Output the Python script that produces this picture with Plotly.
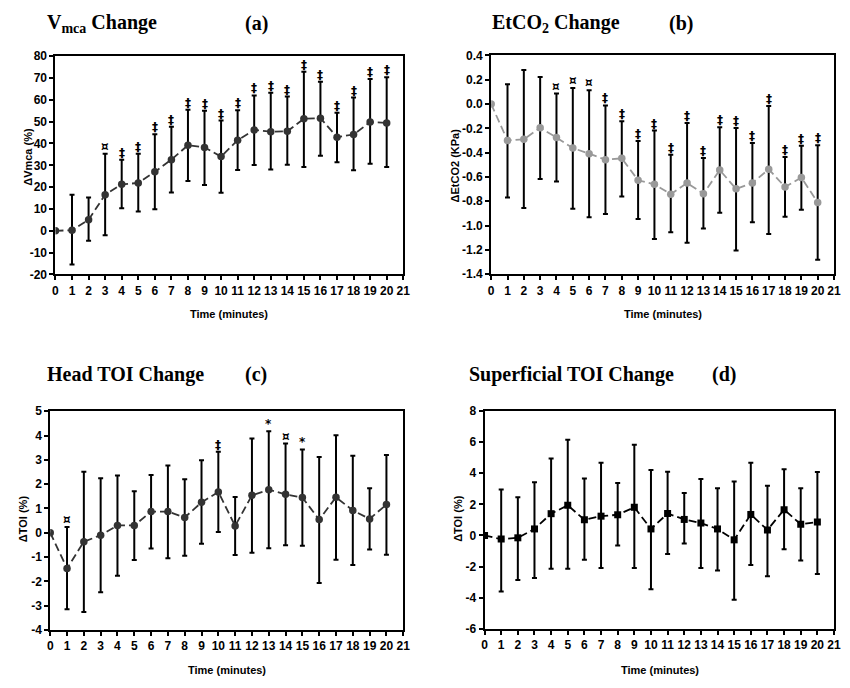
import plotly.graph_objects as go

time = list(range(21))

vmca_mean = [0, 0.3, 5.1, 16.5, 21.3, 21.9, 27.0, 32.6, 39.2, 38.2, 34.0, 41.5, 46.2, 45.4, 45.6, 51.3, 51.6, 42.9, 44.1, 49.8, 49.4]
vmca_upper = [None, 16.5, 15.3, 35.3, 32.6, 35.3, 44.2, 47.7, 55.5, 55.0, 50.5, 55.2, 62.0, 63.2, 61.5, 72.8, 68.3, 54.1, 61.0, 69.5, 70.3]
vmca_lower = [None, -15.4, -4.6, -2.0, 10.3, 8.8, 9.9, 17.5, 22.8, 21.0, 17.4, 27.8, 30.1, 28.1, 30.2, 29.2, 34.4, 31.4, 27.7, 30.7, 29.2]
vmca_sig = ["", "", "", "¤"] + ["‡"] * 17

etco2_mean = [0, -0.30, -0.29, -0.195, -0.276, -0.362, -0.408, -0.458, -0.447, -0.627, -0.66, -0.742, -0.649, -0.739, -0.543, -0.698, -0.649, -0.537, -0.682, -0.605, -0.81]
etco2_upper = [None, 0.162, 0.281, 0.222, 0.086, 0.132, 0.114, -0.011, -0.141, -0.304, -0.218, -0.417, -0.156, -0.444, -0.191, -0.197, -0.32, -0.016, -0.435, -0.343, -0.338]
etco2_lower = [None, -0.769, -0.856, -0.616, -0.638, -0.862, -0.932, -0.905, -0.761, -0.946, -1.11, -1.055, -1.142, -1.025, -0.894, -1.205, -0.973, -1.069, -0.927, -0.87, -1.281]
etco2_sig = ["", "", "", "", "¤", "¤", "¤"] + ["‡"] * 14

headtoi_mean = [0, -1.47, -0.37, -0.10, 0.30, 0.30, 0.87, 0.87, 0.63, 1.25, 1.68, 0.28, 1.54, 1.77, 1.58, 1.45, 0.54, 1.46, 0.92, 0.57, 1.16]
headtoi_upper = [None, 0.24, 2.51, 2.24, 2.36, 1.71, 2.38, 2.77, 2.20, 2.98, 3.33, 1.47, 3.88, 4.18, 3.67, 3.43, 3.12, 4.01, 3.17, 1.83, 3.20]
headtoi_lower = [None, -3.15, -3.26, -2.45, -1.77, -1.12, -0.65, -1.05, -0.95, -0.45, 0.03, -0.92, -0.82, -0.64, -0.52, -0.54, -2.07, -1.11, -1.33, -0.69, -0.91]
headtoi_sig = ["", "¤", "", "", "", "", "", "", "", "", "‡", "", "", "*", "¤", "*", "", "", "", "", ""]

suptoi_mean = [0, -0.23, -0.15, 0.42, 1.40, 1.94, 1.01, 1.24, 1.33, 1.81, 0.42, 1.41, 1.03, 0.80, 0.42, -0.28, 1.35, 0.36, 1.66, 0.72, 0.87]
suptoi_upper = [None, 2.95, 2.46, 3.41, 4.95, 6.15, 3.66, 4.67, 3.37, 5.83, 4.21, 4.10, 2.72, 3.62, 3.03, 3.47, 4.67, 3.20, 4.25, 3.03, 4.08]
suptoi_lower = [None, -3.60, -2.86, -2.73, -2.14, -2.14, -1.55, -2.08, -0.64, -2.08, -3.45, -1.19, -0.51, -2.08, -2.25, -4.13, -1.89, -2.61, -0.89, -1.61, -2.48]
suptoi_sig = [""] * 21

x_ticks = list(range(22))
vmca_ticks = [-20, -10, 0, 10, 20, 30, 40, 50, 60, 70, 80]
etco2_ticks = [-1.4, -1.2, -1.0, -0.8, -0.6, -0.4, -0.2, 0.0, 0.2, 0.4]
headtoi_ticks = [-4, -3, -2, -1, 0, 1, 2, 3, 4, 5]
suptoi_ticks = [-6, -4, -2, 0, 2, 4, 6, 8]

# page body has an 8px default margin on every side; figure sized so the page is 850x688
OFF = 8
W, H = 850 - 2 * OFF, 688 - 2 * OFF


def px(x):
    return min(max((x - OFF) / W, 0.0), 1.0)


def py(y):
    return min(max(1 - (y - OFF) / H, 0.0), 1.0)


panels = [
    dict(mean=vmca_mean, up=vmca_upper, lo=vmca_lower, sig=vmca_sig, color="#333333", symbol="circle",
         xdom=(53, 405), ydom=(50, 273), ticks=vmca_ticks, fmt="{:d}",
         title="V<sub>mca</sub> Change", tx=42, lab="(a)", lx=256, ty=17,
         ytitle="ΔVmca (%)", ytx=25, yty=153, xtx=229, xty=313),
    dict(mean=etco2_mean, up=etco2_upper, lo=etco2_lower, sig=etco2_sig, color="#999999", symbol="circle",
         xdom=(494, 841), ydom=(49.3, 272.7), ticks=etco2_ticks, fmt="{:.1f}",
         title="EtCO<sub>2</sub> Change", tx=493, lab="(b)", lx=686, ty=17,
         ytitle="ΔEtCO2 (KPa)", ytx=457, yty=162, xtx=668, xty=313),
    dict(mean=headtoi_mean, up=headtoi_upper, lo=headtoi_lower, sig=headtoi_sig, color="#333333", symbol="circle",
         xdom=(47.7, 405), ydom=(412.7, 636), ticks=headtoi_ticks, fmt="{:d}",
         title="Head TOI Change", tx=42, lab="(c)", lx=256, ty=375,
         ytitle="ΔTOI (%)", ytx=20, yty=522, xtx=227, xty=677),
    dict(mean=suptoi_mean, up=suptoi_upper, lo=suptoi_lower, sig=suptoi_sig, color="#000000", symbol="square",
         xdom=(487.3, 841), ydom=(412.3, 635), ticks=suptoi_ticks, fmt="{:d}",
         title="Superficial TOI Change", tx=470, lab="(d)", lx=730, ty=375,
         ytitle="ΔTOI (%)", ytx=461, yty=522, xtx=665, xty=677),
]

fig = go.Figure()
annotations = []
layout = {}

tickfont = dict(family="Liberation Sans, Arial", size=12, color="black", weight="bold")
boldfont = dict(family="Liberation Sans, Arial", size=11, color="black", weight="bold")
titlefont = dict(family="Liberation Serif, Times New Roman", size=20, color="black", weight="bold")
sigfont = dict(family="DejaVu Sans, Liberation Sans", size=12, color="black", weight="bold")

for i, p in enumerate(panels):
    n = "" if i == 0 else str(i + 1)
    xa, ya = "x" + n, "y" + n
    idx = [k for k in range(len(time)) if p["up"][k] is not None]
    ex = [time[k] for k in idx]
    ey = [p["mean"][k] for k in idx]
    eplus = [p["up"][k] - p["mean"][k] for k in idx]
    eminus = [p["mean"][k] - p["lo"][k] for k in idx]
    fig.add_trace(go.Scatter(
        x=ex, y=ey, mode="markers", marker=dict(size=1, opacity=0),
        error_y=dict(type="data", array=eplus, arrayminus=eminus, color="black", thickness=2, width=2.5),
        xaxis=xa, yaxis=ya, showlegend=False, hoverinfo="skip"))
    fig.add_trace(go.Scatter(
        x=time, y=p["mean"], mode="lines+markers",
        line=dict(color=p["color"], width=1.8, dash="8px,4px"),
        marker=dict(color=p["color"], size=7.5 if p["symbol"] == "circle" else 7, symbol=p["symbol"]),
        xaxis=xa, yaxis=ya, showlegend=False))
    for k in idx:
        if p["sig"][k]:
            annotations.append(dict(x=time[k], y=p["up"][k], xref=xa, yref=ya, text=p["sig"][k],
                                    showarrow=False, yanchor="bottom", yshift=-2, font=sigfont))
    x0, x1 = p["xdom"]
    y0, y1 = p["ydom"]
    t = p["ticks"]
    layout["xaxis" + n] = dict(domain=[px(x0), px(x1)], range=[0, 21], anchor=ya, tickmode="array",
                               tickvals=x_ticks, ticktext=[str(v) for v in x_ticks],
                               showline=True, linecolor="black", linewidth=2, mirror=True,
                               ticks="outside", ticklen=4, tickwidth=1.5, tickcolor="black",
                               showgrid=False, zeroline=False, tickfont=tickfont, fixedrange=True)
    layout["yaxis" + n] = dict(domain=[py(y1), py(y0)], range=[t[0], t[-1]], anchor=xa, tickmode="array",
                               tickvals=t, ticktext=[p["fmt"].format(v) for v in t],
                               showline=True, linecolor="black", linewidth=2, mirror=True,
                               ticks="outside", ticklen=4, tickwidth=1.5, tickcolor="black",
                               showgrid=False, zeroline=False, tickfont=tickfont, fixedrange=True)
    annotations.append(dict(x=px(p["tx"]), y=py(p["ty"]), xref="paper", yref="paper",
                            text=p["title"], showarrow=False, xanchor="left",
                            yanchor="middle", font=titlefont))
    annotations.append(dict(x=px(p["lx"]), y=py(p["ty"]), xref="paper", yref="paper",
                            text=p["lab"], showarrow=False, xanchor="center",
                            yanchor="middle", font=titlefont))
    annotations.append(dict(x=px(p["ytx"]), y=py(p["yty"]), xref="paper", yref="paper",
                            text=p["ytitle"], showarrow=False, textangle=-90,
                            xanchor="center", yanchor="middle", font=boldfont))
    annotations.append(dict(x=px(p["xtx"]), y=py(p["xty"]), xref="paper", yref="paper",
                            text="Time (minutes)", showarrow=False,
                            xanchor="center", yanchor="middle", font=boldfont))

fig.update_layout(width=W, height=H, margin=dict(l=0, r=0, t=0, b=0),
                  paper_bgcolor="white", plot_bgcolor="white", annotations=annotations, **layout)

fig.write_html("out.html")
